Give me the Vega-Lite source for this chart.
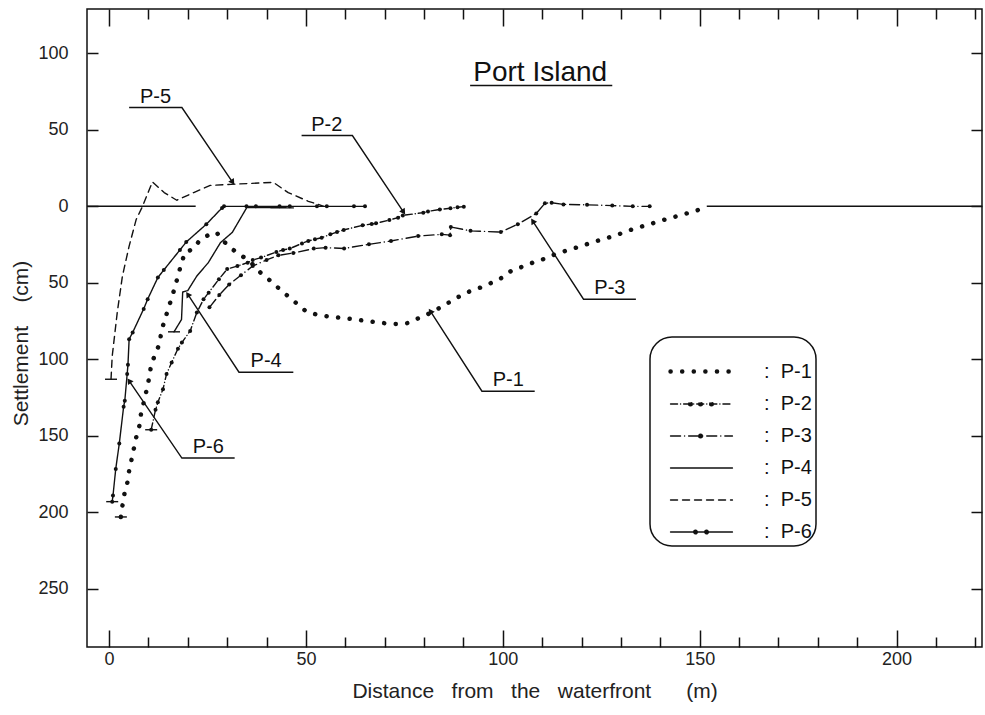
{
  "$schema": "https://vega.github.io/schema/vega-lite/v6.json",
  "width": 895,
  "height": 638,
  "autosize": "none",
  "padding": {"left": 87, "top": 9, "right": 3, "bottom": 68},
  "background": "white",
  "datasets": {
    "series": [
      {"series":"P-1","i":1,"x":3,"y":203},{"series":"P-1","i":2,"x":3.4,"y":195.6},{"series":"P-1","i":3,"x":3.9,"y":188},{"series":"P-1","i":4,"x":4.7,"y":180},{"series":"P-1","i":5,"x":5.1,"y":172.8},{"series":"P-1","i":6,"x":6,"y":162},{"series":"P-1","i":7,"x":6.9,"y":151},{"series":"P-1","i":8,"x":7.7,"y":143.4},{"series":"P-1","i":9,"x":8.1,"y":135.8},{"series":"P-1","i":10,"x":9.4,"y":121.6},{"series":"P-1","i":11,"x":10.3,"y":110.8},{"series":"P-1","i":12,"x":10.7,"y":103},{"series":"P-1","i":13,"x":11.8,"y":96.6},{"series":"P-1","i":14,"x":12.9,"y":89},{"series":"P-1","i":15,"x":13.3,"y":81},{"series":"P-1","i":16,"x":14.2,"y":74},{"series":"P-1","i":17,"x":15,"y":67},{"series":"P-1","i":18,"x":15.9,"y":60},{"series":"P-1","i":19,"x":16.7,"y":53},{"series":"P-1","i":20,"x":17.5,"y":45.5},{"series":"P-1","i":21,"x":18.4,"y":37},{"series":"P-1","i":22,"x":19.3,"y":30},{"series":"P-1","i":23,"x":21.3,"y":28},{"series":"P-1","i":24,"x":22.7,"y":23.3},{"series":"P-1","i":25,"x":24.5,"y":19.6},{"series":"P-1","i":26,"x":27.3,"y":17},{"series":"P-1","i":27,"x":29,"y":22.6},{"series":"P-1","i":28,"x":31.3,"y":28},{"series":"P-1","i":29,"x":33.9,"y":32.6},{"series":"P-1","i":30,"x":36,"y":36.6},{"series":"P-1","i":31,"x":38.6,"y":43.7},{"series":"P-1","i":32,"x":41,"y":48.7},{"series":"P-1","i":33,"x":43.3,"y":54},{"series":"P-1","i":34,"x":45.6,"y":59},{"series":"P-1","i":35,"x":47.9,"y":64},{"series":"P-1","i":36,"x":50.2,"y":69},{"series":"P-1","i":37,"x":53.2,"y":71},{"series":"P-1","i":38,"x":55.8,"y":72},{"series":"P-1","i":39,"x":59.2,"y":73},{"series":"P-1","i":40,"x":62.2,"y":73.8},{"series":"P-1","i":41,"x":65.1,"y":74.9},{"series":"P-1","i":42,"x":68.2,"y":75.8},{"series":"P-1","i":43,"x":71.4,"y":76.8},{"series":"P-1","i":44,"x":74.2,"y":77},{"series":"P-1","i":45,"x":76.4,"y":76},{"series":"P-1","i":46,"x":78.9,"y":72.7},{"series":"P-1","i":47,"x":81.9,"y":69.4},{"series":"P-1","i":48,"x":84.5,"y":65.5},{"series":"P-1","i":49,"x":87,"y":61.8},{"series":"P-1","i":50,"x":89.2,"y":58.5},{"series":"P-1","i":51,"x":91.8,"y":55.3},{"series":"P-1","i":52,"x":94.4,"y":53},{"series":"P-1","i":53,"x":97.3,"y":49.8},{"series":"P-1","i":54,"x":99.9,"y":46.5},{"series":"P-1","i":55,"x":102.1,"y":42.2},{"series":"P-1","i":56,"x":105,"y":39.4},{"series":"P-1","i":57,"x":107.6,"y":36.8},{"series":"P-1","i":58,"x":110.2,"y":34.6},{"series":"P-1","i":59,"x":113.3,"y":31.3},{"series":"P-1","i":60,"x":115.8,"y":29.2},{"series":"P-1","i":61,"x":120,"y":25.9},{"series":"P-1","i":62,"x":123,"y":23.3},{"series":"P-1","i":63,"x":126.1,"y":21},{"series":"P-1","i":64,"x":128.7,"y":19},{"series":"P-1","i":65,"x":131.7,"y":16},{"series":"P-1","i":66,"x":134.3,"y":13.9},{"series":"P-1","i":67,"x":137.3,"y":11.7},{"series":"P-1","i":68,"x":139.8,"y":9.6},{"series":"P-1","i":69,"x":142.9,"y":7.4},{"series":"P-1","i":70,"x":145.9,"y":5.2},{"series":"P-1","i":71,"x":148.8,"y":3.1},{"series":"P-1","i":72,"x":151.8,"y":0.3},
      {"series":"P-2","i":1,"x":10.7,"y":146},{"series":"P-2","i":2,"x":11.8,"y":133},{"series":"P-2","i":3,"x":12.4,"y":128},{"series":"P-2","i":4,"x":13.7,"y":119.5},{"series":"P-2","i":5,"x":14.6,"y":109.6},{"series":"P-2","i":6,"x":15.9,"y":102},{"series":"P-2","i":7,"x":17.5,"y":93},{"series":"P-2","i":8,"x":18.5,"y":89},{"series":"P-2","i":9,"x":20.6,"y":81.4},{"series":"P-2","i":10,"x":22.3,"y":69.4},{"series":"P-2","i":11,"x":24,"y":60.7},{"series":"P-2","i":12,"x":25.3,"y":56.4},{"series":"P-2","i":13,"x":27.9,"y":47.6},{"series":"P-2","i":14,"x":30,"y":41},{"series":"P-2","i":15,"x":32.6,"y":39},{"series":"P-2","i":16,"x":35.2,"y":36.8},{"series":"P-2","i":17,"x":36.5,"y":35},{"series":"P-2","i":18,"x":38.6,"y":33.5},{"series":"P-2","i":19,"x":42.5,"y":29.8},{"series":"P-2","i":20,"x":44.2,"y":28.5},{"series":"P-2","i":21,"x":45.9,"y":27.6},{"series":"P-2","i":22,"x":49,"y":24.2},{"series":"P-2","i":23,"x":50.6,"y":22.6},{"series":"P-2","i":24,"x":52.3,"y":21.5},{"series":"P-2","i":25,"x":54,"y":20.5},{"series":"P-2","i":26,"x":56.2,"y":18.3},{"series":"P-2","i":27,"x":57.9,"y":16.7},{"series":"P-2","i":28,"x":59.6,"y":15.4},{"series":"P-2","i":29,"x":64.4,"y":12.4},{"series":"P-2","i":30,"x":66.7,"y":11.5},{"series":"P-2","i":31,"x":67.8,"y":11.1},{"series":"P-2","i":32,"x":71.2,"y":8.9},{"series":"P-2","i":33,"x":73.4,"y":7.4},{"series":"P-2","i":34,"x":74.6,"y":5.9},{"series":"P-2","i":35,"x":79.8,"y":4.1},{"series":"P-2","i":36,"x":81,"y":3.3},{"series":"P-2","i":37,"x":84,"y":2},{"series":"P-2","i":38,"x":86.7,"y":1.2},{"series":"P-2","i":39,"x":88.5,"y":0.6},{"series":"P-2","i":40,"x":90.1,"y":0.2},
      {"series":"P-3","i":1,"x":25.5,"y":66},{"series":"P-3","i":2,"x":28,"y":58},{"series":"P-3","i":3,"x":30.5,"y":51},{"series":"P-3","i":4,"x":33.5,"y":45},{"series":"P-3","i":5,"x":36.5,"y":39},{"series":"P-3","i":6,"x":40,"y":35},{"series":"P-3","i":7,"x":43,"y":32},{"series":"P-3","i":8,"x":46.8,"y":30.5},{"series":"P-3","i":9,"x":52,"y":27.6},{"series":"P-3","i":10,"x":55,"y":27},{"series":"P-3","i":11,"x":59.7,"y":27.5},{"series":"P-3","i":12,"x":66,"y":24.8},{"series":"P-3","i":13,"x":71.6,"y":22.6},{"series":"P-3","i":14,"x":78.5,"y":19.4},{"series":"P-3","i":15,"x":84.5,"y":18.3},{"series":"P-3","i":16,"x":86.6,"y":18.8},{"series":"P-3","i":17,"x":86.8,"y":13.5},{"series":"P-3","i":18,"x":91.8,"y":16},{"series":"P-3","i":19,"x":99.5,"y":16.8},{"series":"P-3","i":20,"x":103.8,"y":11.7},{"series":"P-3","i":21,"x":108.5,"y":4.6},{"series":"P-3","i":22,"x":110.7,"y":-2},{"series":"P-3","i":23,"x":112.4,"y":-2.4},{"series":"P-3","i":24,"x":115.4,"y":-1.3},{"series":"P-3","i":25,"x":121.4,"y":-1},{"series":"P-3","i":26,"x":127.8,"y":-0.5},{"series":"P-3","i":27,"x":133,"y":0},{"series":"P-3","i":28,"x":137.3,"y":0},
      {"series":"P-4","i":1,"x":16.5,"y":82},{"series":"P-4","i":2,"x":18.4,"y":74},{"series":"P-4","i":3,"x":18.7,"y":56},{"series":"P-4","i":4,"x":20,"y":55},{"series":"P-4","i":5,"x":22.3,"y":45.5},{"series":"P-4","i":6,"x":25.2,"y":36.8},{"series":"P-4","i":7,"x":28.3,"y":23.7},{"series":"P-4","i":8,"x":31.3,"y":17},{"series":"P-4","i":9,"x":35,"y":0.7},{"series":"P-4","i":10,"x":46.8,"y":1},
      {"series":"P-5","i":1,"x":0.5,"y":113},{"series":"P-5","i":2,"x":0.8,"y":98},{"series":"P-5","i":3,"x":2.1,"y":69},{"series":"P-5","i":4,"x":3.4,"y":45.5},{"series":"P-5","i":5,"x":5.1,"y":26},{"series":"P-5","i":6,"x":6.9,"y":8.5},{"series":"P-5","i":7,"x":8.5,"y":0},{"series":"P-5","i":8,"x":11,"y":-16},{"series":"P-5","i":9,"x":14,"y":-9},{"series":"P-5","i":10,"x":17.2,"y":-4},{"series":"P-5","i":11,"x":21.5,"y":-9},{"series":"P-5","i":12,"x":25.7,"y":-13.7},{"series":"P-5","i":13,"x":31,"y":-14.4},{"series":"P-5","i":14,"x":41.7,"y":-15.7},{"series":"P-5","i":15,"x":45.5,"y":-9},{"series":"P-5","i":16,"x":50.6,"y":-3.3},{"series":"P-5","i":17,"x":53.5,"y":-1},{"series":"P-5","i":18,"x":54.5,"y":0},
      {"series":"P-6","i":1,"x":0.8,"y":193},{"series":"P-6","i":2,"x":1,"y":189},{"series":"P-6","i":3,"x":1.7,"y":171.6},{"series":"P-6","i":4,"x":2.6,"y":155},{"series":"P-6","i":5,"x":3.7,"y":131},{"series":"P-6","i":6,"x":4,"y":127},{"series":"P-6","i":7,"x":4.6,"y":109.6},{"series":"P-6","i":8,"x":4.8,"y":103.6},{"series":"P-6","i":9,"x":5.1,"y":86.8},{"series":"P-6","i":10,"x":6,"y":82.4},{"series":"P-6","i":11,"x":8.8,"y":67},{"series":"P-6","i":12,"x":9.8,"y":60.7},{"series":"P-6","i":13,"x":12.4,"y":46.5},{"series":"P-6","i":14,"x":13.9,"y":41.6},{"series":"P-6","i":15,"x":18,"y":28.5},{"series":"P-6","i":16,"x":19.6,"y":23.3},{"series":"P-6","i":17,"x":24.7,"y":11.7},{"series":"P-6","i":18,"x":28.7,"y":1},{"series":"P-6","i":19,"x":29.2,"y":0},{"series":"P-6","i":20,"x":34.9,"y":0},{"series":"P-6","i":21,"x":37.3,"y":0},{"series":"P-6","i":22,"x":43.3,"y":0},{"series":"P-6","i":23,"x":45.9,"y":0},{"series":"P-6","i":24,"x":52.8,"y":0},{"series":"P-6","i":25,"x":55.3,"y":0},{"series":"P-6","i":26,"x":62.2,"y":0},{"series":"P-6","i":27,"x":65,"y":0}
    ],
    "ground": [
      {"seg":"a","x":-5.6,"y":0},{"seg":"a","x":22,"y":0},
      {"seg":"b","x":151.8,"y":0},{"seg":"b","x":221.7,"y":0}
    ],
    "leaders": [
      {"label":"P-5","i":1,"x":5.1,"y":-64.6},{"label":"P-5","i":2,"x":18.5,"y":-64.6},{"label":"P-5","i":3,"x":31.4,"y":-15.7},
      {"label":"P-2","i":1,"x":48.9,"y":-46.3},{"label":"P-2","i":2,"x":61.8,"y":-46.3},{"label":"P-2","i":3,"x":74.8,"y":3.7},
      {"label":"P-3","i":1,"x":133.8,"y":60.7},{"label":"P-3","i":2,"x":120.5,"y":60.7},{"label":"P-3","i":3,"x":107.6,"y":9.6},
      {"label":"P-1","i":1,"x":108.1,"y":120.8},{"label":"P-1","i":2,"x":94.7,"y":120.8},{"label":"P-1","i":3,"x":81.6,"y":68.5},
      {"label":"P-4","i":1,"x":46.8,"y":108.4},{"label":"P-4","i":2,"x":33,"y":108.4},{"label":"P-4","i":3,"x":20,"y":57.5},
      {"label":"P-6","i":1,"x":31.9,"y":164.5},{"label":"P-6","i":2,"x":18.5,"y":164.5},{"label":"P-6","i":3,"x":5.1,"y":114}
    ],
    "arrows": [
      {"label":"P-5","x0":18.5,"y0":-64.6,"x":31.4,"y":-15.7},
      {"label":"P-2","x0":61.8,"y0":-46.3,"x":74.8,"y":3.7},
      {"label":"P-3","x0":120.5,"y0":60.7,"x":107.6,"y":9.6},
      {"label":"P-1","x0":94.7,"y0":120.8,"x":81.6,"y":68.5},
      {"label":"P-4","x0":33,"y0":108.4,"x":20,"y":57.5},
      {"label":"P-6","x0":18.5,"y0":164.5,"x":5.1,"y":114}
    ],
    "labels": [
      {"label":"P-5","x":11.8,"y":-64.6},
      {"label":"P-2","x":55.3,"y":-46.3},
      {"label":"P-3","x":127.2,"y":60.7},
      {"label":"P-1","x":101.4,"y":120.8},
      {"label":"P-4","x":39.9,"y":108.4},
      {"label":"P-6","x":25.2,"y":164.5}
    ],
    "title": [
      {"text":"Port Island","x":109.5,"x1":91.7,"x2":127.8,"yu":-79}
    ]
  },
  "layer": [
    {
      "data": {"name": "series"},
      "mark": {"type": "line", "strokeCap": "round", "strokeJoin": "round", "color": "#111", "clip": true},
      "encoding": {
        "x": {"field": "x", "type": "quantitative", "scale": {"domain": [-5.6, 221.7], "nice": false, "zero": false},
          "axis": {"orient": "bottom", "values": [0,10,20,30,40,50,60,70,80,90,100,110,120,130,140,150,160,170,180,190,200,210,220],
            "labelExpr": "datum.value % 50 === 0 ? datum.label : ''",
            "tickSize": {"condition": {"test": "datum.value % 50 === 0", "value": -17}, "value": -10},
            "labelPadding": 20, "labelFlush": false,
            "title": "Distance\u00a0\u00a0\u00a0from\u00a0\u00a0\u00a0the\u00a0\u00a0\u00a0waterfront\u00a0\u00a0\u00a0\u00a0\u00a0\u00a0(m)", "titlePadding": 12}},
        "y": {"field": "y", "type": "quantitative", "scale": {"domain": [-129, 288], "nice": false, "zero": false, "reverse": true},
          "axis": {"orient": "left", "values": [-100,-50,0,50,100,150,200,250],
            "labelExpr": "format(abs(datum.value), 'd')", "tickSize": -11, "labelPadding": 30,
            "title": "Settlement\u00a0\u00a0\u00a0\u00a0(cm)", "titlePadding": 6, "titleY": 334}},
        "order": {"field": "i", "type": "quantitative"},
        "strokeDash": {"field": "series", "type": "ordinal",
          "scale": {"domain": ["P-1","P-2","P-3","P-4","P-5","P-6"], "range": [[0.1,11.5],[7,3,0.1,3],[10,4,0.1,4],[1,0],[7,5],[1,0]]},
          "legend": {"title": " ", "titleFontSize": 11, "titlePadding": 5, "orient": "none", "legendX": 563, "legendY": 328, "padding": 4,
            "strokeColor": "#111", "fillColor": "white", "cornerRadius": 22,
            "symbolType": "M0.17,0H5.33", "symbolSize": 576, "symbolStrokeColor": "#111", "symbolFillColor": "#111", "symbolStrokeWidth": 1.4,
            "rowPadding": 9, "labelFontSize": 20, "labelFont": "Liberation Sans", "labelColor": "#111",
            "labelOffset": 81, "labelExpr": "':\u00a0\u00a0' + datum.label + '\u00a0\u00a0'",
            "encode": {
              "symbols": {"update": {
                "strokeCap": {"value": "round"},
                "stroke": {"value": "#111"},
                "strokeOpacity": {"value": 1},
                "opacity": {"value": 1},
                "shape": {"signal": "datum.value === 'P-2' ? 'M0.17,0H5.33M1.68,0a0.15,0.15 0 1,0 0.3,0a0.15,0.15 0 1,0 -0.3,0M2.52,0a0.15,0.15 0 1,0 0.3,0a0.15,0.15 0 1,0 -0.3,0M3.43,0a0.15,0.15 0 1,0 0.3,0a0.15,0.15 0 1,0 -0.3,0' : datum.value === 'P-3' ? 'M0.17,0H5.33M2.52,0a0.15,0.15 0 1,0 0.3,0a0.15,0.15 0 1,0 -0.3,0' : datum.value === 'P-6' ? 'M0.17,0H5.33M2.1,0a0.15,0.15 0 1,0 0.3,0a0.15,0.15 0 1,0 -0.3,0M3.02,0a0.15,0.15 0 1,0 0.3,0a0.15,0.15 0 1,0 -0.3,0' : 'M0.17,0H5.33'"},
                "fill": {"value": "#111"},
                "strokeDash": {"signal": "datum.value === 'P-1' ? [0.1,11.5] : datum.value === 'P-5' ? [7,5] : [1,0]"},
                "strokeWidth": {"signal": "datum.value === 'P-1' ? 4.5 : 1.4"}
              }},
              "legend": {"update": {"strokeWidth": {"value": 1.5}}}
            }}},
        "strokeWidth": {"field": "series", "type": "ordinal",
          "scale": {"type": "ordinal", "domain": ["P-1","P-2","P-3","P-4","P-5","P-6"], "range": [4.5,1.4,1.4,1.4,1.4,1.4]}}
      }
    },
    {
      "data": {"name": "series"},
      "transform": [{"filter": "datum.series === 'P-2' || datum.series === 'P-3' || datum.series === 'P-6'"}],
      "mark": {"type": "point", "shape": "circle", "filled": true, "size": 16, "color": "#111", "opacity": 1},
      "encoding": {
        "x": {"field": "x", "type": "quantitative", "scale": {"domain": [-5.6, 221.7], "nice": false, "zero": false}, "axis": null},
        "y": {"field": "y", "type": "quantitative", "scale": {"domain": [-129, 288], "nice": false, "zero": false, "reverse": true}, "axis": null}
      }
    },
    {
      "data": {"name": "series"},
      "transform": [
        {"window": [{"op": "row_number", "as": "rn"}], "groupby": ["series"], "sort": [{"field": "i"}]},
        {"filter": "datum.rn === 1 && datum.series !== 'P-3'"}
      ],
      "mark": {"type": "point", "shape": "stroke", "filled": false, "size": 144, "strokeWidth": 1.4, "color": "#111", "opacity": 1},
      "encoding": {
        "x": {"field": "x", "type": "quantitative", "scale": {"domain": [-5.6, 221.7], "nice": false, "zero": false}, "axis": null},
        "y": {"field": "y", "type": "quantitative", "scale": {"domain": [-129, 288], "nice": false, "zero": false, "reverse": true}, "axis": null}
      }
    },
    {
      "data": {"name": "ground"},
      "mark": {"type": "line", "color": "#111", "strokeWidth": 1.5, "clip": true},
      "encoding": {
        "x": {"field": "x", "type": "quantitative", "scale": {"domain": [-5.6, 221.7], "nice": false, "zero": false},
          "axis": {"orient": "top", "values": [0,10,20,30,40,50,60,70,80,90,100,110,120,130,140,150,160,170,180,190,200,210,220],
            "labels": false, "title": null,
            "tickSize": {"condition": {"test": "datum.value % 50 === 0", "value": -17}, "value": -10}}},
        "y": {"field": "y", "type": "quantitative", "scale": {"domain": [-129, 288], "nice": false, "zero": false, "reverse": true},
          "axis": {"orient": "right", "values": [-100,-50,0,50,100,150,200,250], "labels": false, "title": null, "tickSize": -11}},
        "detail": {"field": "seg"}
      }
    },
    {
      "data": {"name": "leaders"},
      "mark": {"type": "line", "color": "#111", "strokeWidth": 1.4},
      "encoding": {
        "x": {"field": "x", "type": "quantitative", "scale": {"domain": [-5.6, 221.7], "nice": false, "zero": false}, "axis": null},
        "y": {"field": "y", "type": "quantitative", "scale": {"domain": [-129, 288], "nice": false, "zero": false, "reverse": true}, "axis": null},
        "detail": {"field": "label"},
        "order": {"field": "i", "type": "quantitative"}
      }
    },
    {
      "data": {"name": "arrows"},
      "transform": [{"calculate": "atan2((datum.x - datum.x0) * 3.937, -(datum.y - datum.y0) * 1.532) * 180 / PI", "as": "ang"}],
      "mark": {"type": "point", "shape": "triangle-up", "filled": true, "size": 45, "color": "#111", "opacity": 1},
      "encoding": {
        "x": {"field": "x", "type": "quantitative", "scale": {"domain": [-5.6, 221.7], "nice": false, "zero": false}, "axis": null},
        "y": {"field": "y", "type": "quantitative", "scale": {"domain": [-129, 288], "nice": false, "zero": false, "reverse": true}, "axis": null},
        "angle": {"field": "ang", "type": "quantitative", "scale": null}
      }
    },
    {
      "data": {"name": "labels"},
      "mark": {"type": "text", "font": "Liberation Sans", "fontSize": 20, "color": "#111", "baseline": "bottom", "align": "center", "dy": -1},
      "encoding": {
        "x": {"field": "x", "type": "quantitative", "scale": {"domain": [-5.6, 221.7], "nice": false, "zero": false}, "axis": null},
        "y": {"field": "y", "type": "quantitative", "scale": {"domain": [-129, 288], "nice": false, "zero": false, "reverse": true}, "axis": null},
        "text": {"field": "label"}
      }
    },
    {
      "data": {"name": "title"},
      "mark": {"type": "text", "font": "Liberation Sans", "fontSize": 28, "color": "#111", "baseline": "alphabetic", "align": "center", "dy": -4},
      "encoding": {
        "x": {"field": "x", "type": "quantitative", "scale": {"domain": [-5.6, 221.7], "nice": false, "zero": false}, "axis": null},
        "y": {"field": "yu", "type": "quantitative", "scale": {"domain": [-129, 288], "nice": false, "zero": false, "reverse": true}, "axis": null},
        "text": {"field": "text"}
      }
    },
    {
      "data": {"name": "title"},
      "mark": {"type": "rule", "color": "#111", "strokeWidth": 1.5},
      "encoding": {
        "x": {"field": "x1", "type": "quantitative", "scale": {"domain": [-5.6, 221.7], "nice": false, "zero": false}, "axis": null},
        "x2": {"field": "x2"},
        "y": {"field": "yu", "type": "quantitative", "scale": {"domain": [-129, 288], "nice": false, "zero": false, "reverse": true}, "axis": null}
      }
    }
  ],
  "resolve": {"axis": {"x": "independent", "y": "independent"}},
  "config": {
    "font": "Liberation Sans",
    "view": {"stroke": "#111", "strokeWidth": 1.5},
    "axis": {"domain": false, "grid": false, "tickColor": "#111", "tickWidth": 1.5,
      "labelColor": "#222", "labelFont": "Liberation Sans", "labelFontSize": 18,
      "titleFont": "Liberation Sans", "titleFontSize": 21, "titleFontWeight": "normal", "titleColor": "#222"}
  }
}
